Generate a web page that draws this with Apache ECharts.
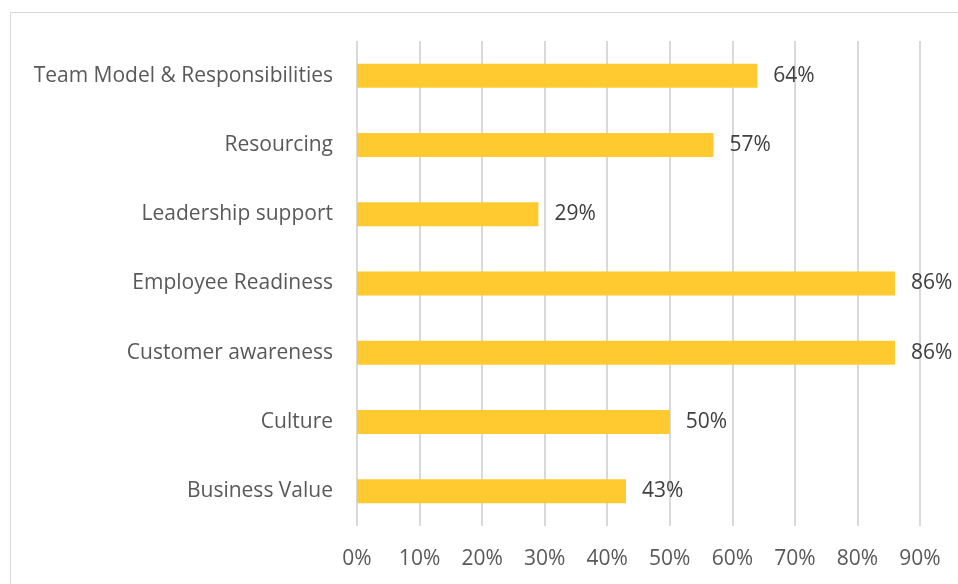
<!DOCTYPE html>
<html>
<head>
<meta charset="utf-8">
<script src="https://cdn.jsdelivr.net/npm/echarts@6/dist/echarts.min.js"></script>
<style>
  html, body { margin: 0; padding: 0; background: #fff; }
  #chart { width: 958px; height: 584px; }
</style>
</head>
<body>
<div id="chart"></div>
<script>
// Categories listed bottom-to-top (category axis runs upward)
const categories = [
  'Business Value',
  'Culture',
  'Customer awareness',
  'Employee Readiness',
  'Leadership support',
  'Resourcing',
  'Team Model & Responsibilities'
];
const shares = [43, 50, 86, 86, 29, 57, 64];
const axisTicks = [0, 10, 20, 30, 40, 50, 60, 70, 80, 90];

const chart = echarts.init(document.getElementById('chart'));
const FONT = '"Open Sans"';
const SIZE = 21;

chart.setOption({
  animation: false,
  backgroundColor: '#ffffff',
  graphic: [{
    type: 'rect',
    shape: { x: 10.5, y: 12.5, width: 1200, height: 1200 },
    style: { fill: 'none', stroke: '#d9d9d9', lineWidth: 1 },
    silent: true
  }],
  grid: { left: 357, right: 38, top: 41, bottom: 58, containLabel: false },
  xAxis: {
    type: 'value',
    min: axisTicks[0],
    max: axisTicks[axisTicks.length - 1],
    interval: 10,
    axisLine: { show: false },
    axisTick: { show: false },
    splitLine: { show: true, lineStyle: { color: '#d9d9d9', width: 2 } },
    axisLabel: {
      formatter: v => v + '%',
      color: '#595959',
      fontFamily: FONT,
      fontSize: SIZE,
      margin: 23
    }
  },
  yAxis: {
    type: 'category',
    data: categories,
    axisLine: { show: false },
    axisTick: { show: false },
    splitLine: { show: false },
    axisLabel: {
      color: '#595959',
      fontFamily: FONT,
      fontSize: SIZE,
      margin: 24,
      padding: [2, 0, 0, 0]
    }
  },
  series: [{
    type: 'bar',
    data: shares,
    barWidth: 24,
    itemStyle: { color: '#ffca2f' },
    label: {
      show: true,
      position: 'right',
      distance: 16,
      formatter: p => p.value + '%',
      color: '#404040',
      fontFamily: FONT,
      fontSize: SIZE,
      padding: [2, 0, 0, 0]
    }
  }]
});
</script>
</body>
</html>
